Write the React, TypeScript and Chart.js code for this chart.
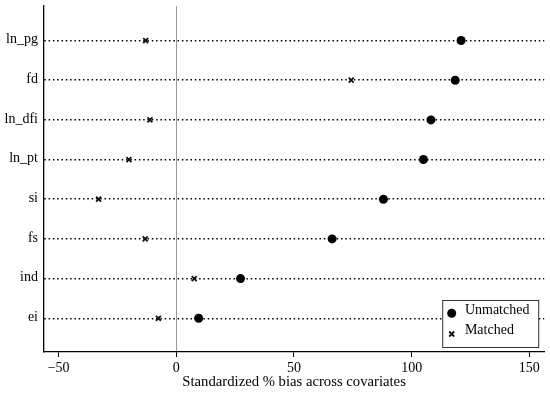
import React, { useEffect, useRef } from "react";
import { Chart, registerables } from "chart.js";

Chart.register(...registerables);

const categories = ["ln_pg", "fd", "ln_dfi", "ln_pt", "si", "fs", "ind", "ei"];
const unmatched = [121.0, 118.5, 108.2, 105.0, 88.0, 66.2, 27.3, 9.5];
const matched = [-13.0, 74.3, -11.2, -20.1, -33.0, -13.2, 7.6, -7.6];
const xTicks = [-50, 0, 50, 100, 150];
const legendLabels = ["Unmatched", "Matched"];
const xTitle = "Standardized % bias across covariates";

const FONT = "'Liberation Serif', 'Times New Roman', serif";

const legendPlugin = {
  id: "boxLegend",
  afterDraw(chart: any) {
    const { ctx, chartArea } = chart;
    const w = 96;
    const h = 47;
    const right = chartArea.right - 6;
    const bottom = chartArea.bottom - 5;
    const left = right - w;
    const top = bottom - h;
    ctx.save();
    ctx.fillStyle = "#fff";
    ctx.fillRect(left, top, w, h);
    ctx.strokeStyle = "#333";
    ctx.lineWidth = 1;
    ctx.strokeRect(left + 0.5, top + 0.5, w, h);
    const mx = left + 9.5;
    const y1 = top + 13.3;
    const y2 = top + 34;
    ctx.fillStyle = "#000";
    ctx.beginPath();
    ctx.arc(mx, y1, 4.5, 0, Math.PI * 2);
    ctx.fill();
    ctx.strokeStyle = "#111";
    ctx.lineWidth = 1.8;
    const r = 2.5;
    ctx.beginPath();
    ctx.moveTo(mx - r, y2 - r);
    ctx.lineTo(mx + r, y2 + r);
    ctx.moveTo(mx + r, y2 - r);
    ctx.lineTo(mx - r, y2 + r);
    ctx.stroke();
    ctx.fillStyle = "#000";
    ctx.font = `14px ${FONT}`;
    ctx.textBaseline = "middle";
    ctx.textAlign = "left";
    ctx.fillText(legendLabels[0], left + 22.7, y1 - 2.5);
    ctx.fillText(legendLabels[1], left + 22.7, y2 - 3.3);
    ctx.restore();
  },
};

export default function App() {
  const ref = useRef<HTMLCanvasElement>(null);

  useEffect(() => {
    if (!ref.current) return;
    const chart = new Chart(ref.current, {
      type: "scatter",
      data: {
        datasets: [
          {
            label: legendLabels[0],
            data: unmatched.map((v, i) => ({ x: v, y: i })),
            pointStyle: "circle",
            pointRadius: 4.5,
            backgroundColor: "#000",
            borderColor: "#000",
            borderWidth: 0,
          },
          {
            label: legendLabels[1],
            data: matched.map((v, i) => ({ x: v, y: i })),
            pointStyle: "crossRot",
            pointRadius: 3.5,
            backgroundColor: "#111",
            borderColor: "#111",
            borderWidth: 1.8,
          },
        ],
      },
      options: {
        animation: false,
        responsive: false,
        layout: { padding: { top: 3, right: 5, left: 0, bottom: 0 } },
        plugins: {
          legend: { display: false },
          tooltip: { enabled: false },
        },
        scales: {
          x: {
            type: "linear",
            min: -56.2,
            max: 156.3,
            afterBuildTicks: (s: any) => {
              s.ticks = xTicks.map((v) => ({ value: v }));
            },
            afterFit: (s: any) => {
              s.height = 43;
              s.paddingLeft = 0;
              s.paddingRight = 0;
            },
            grid: {
              drawOnChartArea: true,
              drawTicks: true,
              tickLength: 5,
              tickColor: "#000",
              tickWidth: 1,
              color: (c: any) => (c.tick && c.tick.value === 0 ? "#999" : "rgba(0,0,0,0)"),
              lineWidth: 1,
            },
            border: { display: true, color: "#000", width: 1.3 },
            ticks: {
              color: "#000",
              font: { family: FONT, size: 14 },
              padding: 3,
              maxRotation: 0,
              callback: (v: any) => (v < 0 ? "\u2212" + Math.abs(v) : String(v)),
            },
            title: {
              display: true,
              text: xTitle,
              color: "#000",
              font: { family: FONT, size: 14.7, lineHeight: 1 },
              padding: { top: 0, bottom: 6 },
            },
          },
          y: {
            type: "linear",
            reverse: true,
            min: -0.875,
            max: 7.85,
            afterBuildTicks: (s: any) => {
              s.ticks = categories.map((_, i) => ({ value: i }));
            },
            afterFit: (s: any) => {
              s.width = 44;
              s.paddingTop = 0;
              s.paddingBottom = 0;
            },
            grid: {
              drawOnChartArea: true,
              drawTicks: false,
              color: "#000",
              lineWidth: 1.5,
            },
            border: { display: true, color: "#000", width: 1.3, dash: [1.5, 2.8] },
            ticks: {
              color: "#000",
              font: { family: FONT, size: 14 },
              padding: 6,
              labelOffset: -1,
              callback: (v: any) => categories[v] ?? "",
            },
          },
        },
      },
      plugins: [legendPlugin],
    } as any);
    return () => chart.destroy();
  }, []);

  return (
    <div style={{ position: "fixed", left: 0, top: 0, width: 550, height: 395, background: "#fff" }}>
      <canvas ref={ref} width={550} height={395} style={{ display: "block" }} />
    </div>
  );
}
